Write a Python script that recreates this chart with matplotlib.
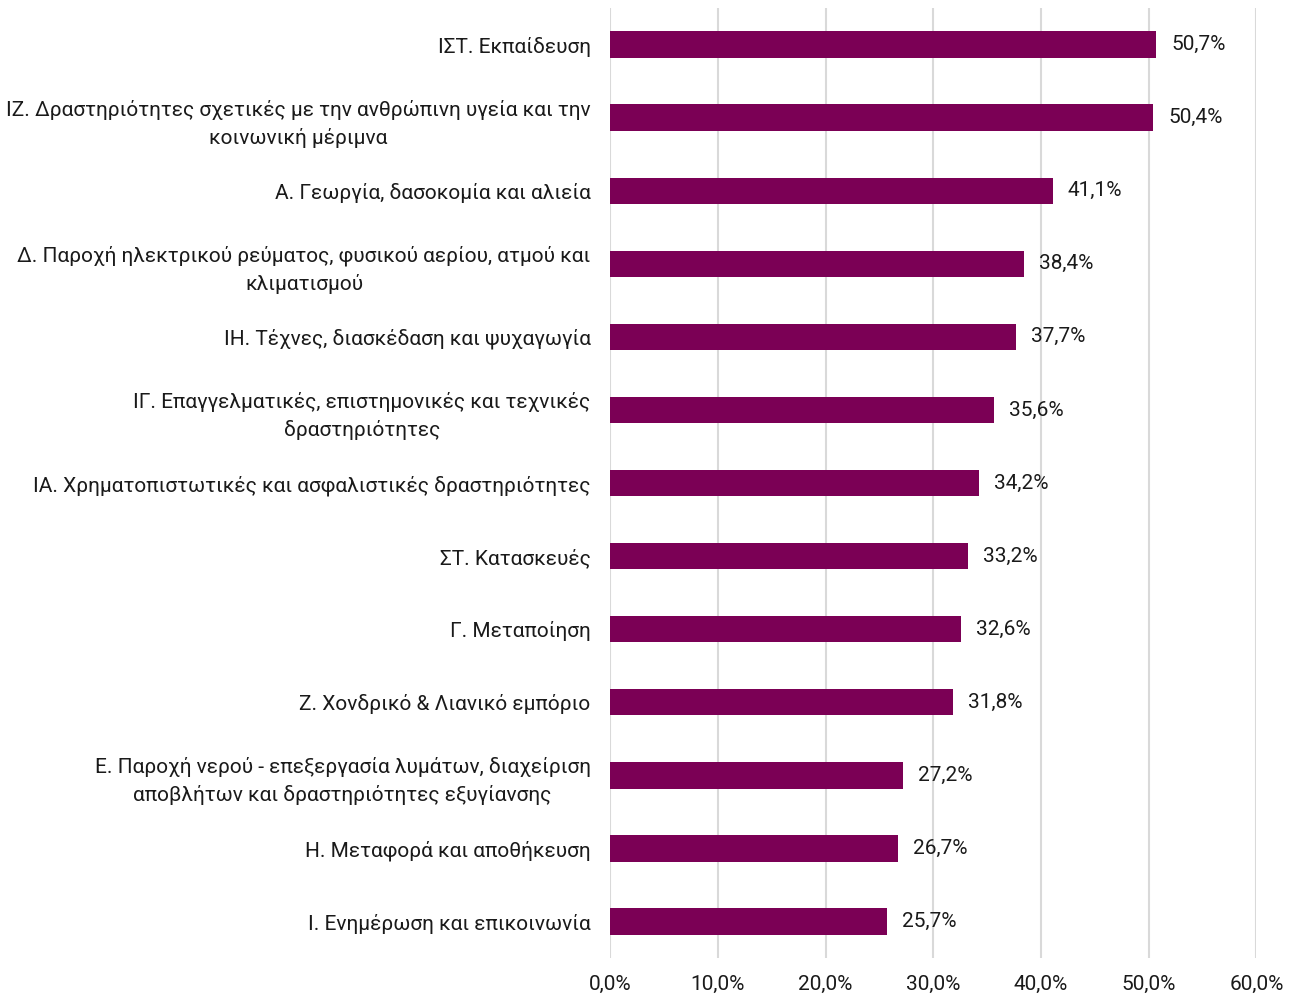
import matplotlib.pyplot as plt

plt.rcParams['font.family'] = ['Roboto', 'DejaVu Sans']

categories = [
    "ΙΣΤ. Εκπαίδευση",
    "ΙΖ. Δραστηριότητες σχετικές με την ανθρώπινη υγεία και την\nκοινωνική μέριμνα",
    "Α. Γεωργία, δασοκομία και αλιεία",
    "Δ. Παροχή ηλεκτρικού ρεύματος, φυσικού αερίου, ατμού και\nκλιματισμού",
    "ΙΗ. Τέχνες, διασκέδαση και ψυχαγωγία",
    "ΙΓ. Επαγγελματικές, επιστημονικές και τεχνικές\nδραστηριότητες",
    "ΙΑ. Χρηματοπιστωτικές και ασφαλιστικές δραστηριότητες",
    "ΣΤ. Κατασκευές",
    "Γ. Μεταποίηση",
    "Ζ. Χονδρικό & Λιανικό εμπόριο",
    "Ε. Παροχή νερού - επεξεργασία λυμάτων, διαχείριση\nαποβλήτων και δραστηριότητες εξυγίανσης",
    "Η. Μεταφορά και αποθήκευση",
    "Ι. Ενημέρωση και επικοινωνία",
]
values = [50.7, 50.4, 41.1, 38.4, 37.7, 35.6, 34.2, 33.2, 32.6, 31.8, 27.2, 26.7, 25.7]
xticks = [0, 10, 20, 30, 40, 50, 60]

color = "#7B0055"
text_color = "#1a1a1a"

fig = plt.figure(figsize=(12.98, 9.96), dpi=100)
ax = fig.add_axes([0.47, 0.038, 0.498, 0.954])

ypos = list(range(len(categories)))[::-1]
ax.barh(ypos, values, height=0.36, color=color, zorder=3)

for y, v in zip(ypos, values):
    ax.text(v + 1.4, y, f"{v:.1f}%".replace(".", ","), va="center", ha="left",
            fontsize=15, color=text_color)

ax.set_yticks(ypos)
ax.set_yticklabels(categories, fontsize=15, multialignment="center",
                   linespacing=1.5, color=text_color)
ax.set_xticks(xticks)
ax.set_xticklabels([f"{t:.1f}%".replace(".", ",") for t in xticks],
                   fontsize=15, color=text_color)
ax.set_xlim(0, 60)
ax.set_ylim(-0.5, len(categories) - 0.5)

ax.grid(axis="x", color="#D9D9D9", linewidth=1.5, zorder=0)
ax.tick_params(axis="both", length=0)
ax.tick_params(axis="y", pad=14)
ax.tick_params(axis="x", pad=12)
for s in ax.spines.values():
    s.set_visible(False)

fig.savefig("out.png", dpi=100)
